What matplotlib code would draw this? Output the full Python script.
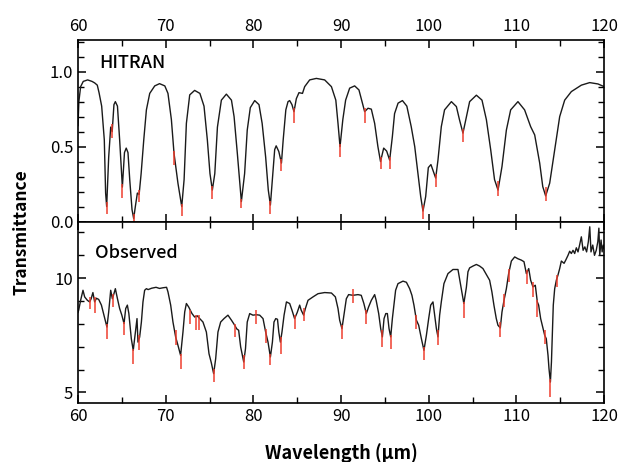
import matplotlib
matplotlib.use("Agg")
import matplotlib.pyplot as plt
import matplotlib.ticker as ticker
import numpy as np

plt.rcParams.update({
    "font.family": ["Noto Sans CJK JP", "DejaVu Sans"],
    "font.size": 12,
    "xtick.direction": "in",
    "ytick.direction": "in",
    "xtick.top": True,
    "ytick.right": True,
    "axes.linewidth": 1.2,
})

# HITRAN transmittance (upper panel)
hitran_wl = [
    60.0, 60.1, 60.3, 60.6, 61.1, 61.6, 61.9, 62.2, 62.4, 62.7, 63.0, 63.15, 63.27,
    63.5, 63.73, 63.9, 64.1, 64.26, 64.5, 64.75, 65.06, 65.3, 65.5, 65.7, 65.9,
    66.16, 66.35, 66.54, 66.77, 66.97, 67.2, 67.5, 67.8, 68.18, 68.75, 69.3, 69.9,
    70.26, 70.65, 70.95, 71.4, 71.83, 72.1, 72.36, 72.74, 73.3, 73.9, 74.37, 74.75,
    75.05, 75.32, 75.6, 75.9, 76.35, 76.92, 77.5, 77.8, 78.17, 78.63, 79.0, 79.3,
    79.65, 80.15, 80.64, 81.0, 81.4, 81.7, 81.94, 82.17, 82.43, 82.6, 82.9, 83.2,
    83.4, 83.7, 83.95, 84.14, 84.4, 84.63, 84.9, 85.2, 85.6, 85.85, 86.42, 87.18,
    88.13, 88.9, 89.4, 89.65, 89.88, 90.2, 90.52, 90.98, 91.55, 92.04, 92.43, 92.69,
    93.07, 93.45, 93.83, 94.2, 94.5, 94.86, 95.2, 95.54, 95.85, 96.1, 96.5, 97.0,
    97.5, 98.0, 98.4, 98.77, 99.08, 99.34, 99.65, 99.95, 100.25, 100.79, 101.05,
    101.43, 101.8, 102.58, 103.15, 103.5, 103.9, 104.3, 104.66, 105.43, 106.07,
    106.57, 107.06, 107.5, 107.9, 108.35, 108.85, 109.34, 110.17, 110.93, 111.62,
    112.08, 112.65, 113.0, 113.33, 113.79, 114.36, 114.93, 115.5, 116.26, 117.4,
    118.35, 119.3, 120.0,
]
hitran_t = [
    0.64, 0.80, 0.90, 0.935, 0.945, 0.935, 0.925, 0.91, 0.86, 0.77, 0.545, 0.19, 0.10,
    0.43, 0.63, 0.60, 0.78, 0.80, 0.77, 0.545, 0.23, 0.46, 0.49, 0.46, 0.28,
    0.08, 0.02, 0.10, 0.19, 0.18, 0.32, 0.545, 0.745, 0.855, 0.905, 0.92, 0.905,
    0.855, 0.68, 0.455, 0.255, 0.10, 0.28, 0.655, 0.845, 0.875, 0.855, 0.77, 0.545,
    0.32, 0.21, 0.32, 0.63, 0.81, 0.85, 0.81, 0.70, 0.455, 0.133, 0.32, 0.61,
    0.76, 0.807, 0.78, 0.655, 0.43, 0.21, 0.11, 0.28, 0.48, 0.505, 0.467, 0.39,
    0.545, 0.745, 0.80, 0.807, 0.78, 0.733, 0.82, 0.86, 0.855, 0.90, 0.945, 0.955,
    0.945, 0.90, 0.81, 0.655, 0.50, 0.68, 0.81, 0.89, 0.905, 0.878, 0.79, 0.733,
    0.756, 0.75, 0.655, 0.50, 0.40, 0.49, 0.47, 0.41, 0.567, 0.72, 0.79, 0.807,
    0.77, 0.633, 0.50, 0.32, 0.167, 0.07, 0.167, 0.36, 0.38, 0.29, 0.41,
    0.633, 0.745, 0.80, 0.767, 0.68, 0.59, 0.70, 0.80, 0.843, 0.81,
    0.68, 0.48, 0.28, 0.21, 0.367, 0.61, 0.745, 0.80, 0.745, 0.633,
    0.578, 0.39, 0.233, 0.171, 0.256, 0.48, 0.70, 0.81, 0.867, 0.91,
    0.927, 0.918, 0.90,
]

# red line markers on HITRAN curve: position, low, high
hitran_lines = [63.27, 63.9, 65.06, 66.35, 66.97, 70.95, 71.83, 75.32, 78.63, 81.94,
                83.2, 84.63, 89.88, 92.69, 94.5, 95.54, 99.34, 100.79, 103.9, 107.9, 113.33]
hitran_lo = [0.05, 0.56, 0.16, 0.0, 0.13, 0.38, 0.04, 0.15, 0.09, 0.05,
             0.34, 0.66, 0.43, 0.66, 0.35, 0.35, 0.02, 0.23, 0.53, 0.17, 0.14]
hitran_hi = [0.13, 0.65, 0.25, 0.05, 0.21, 0.47, 0.12, 0.24, 0.15, 0.135,
             0.42, 0.76, 0.52, 0.76, 0.43, 0.43, 0.11, 0.32, 0.62, 0.27, 0.23]

# Observed spectrum (lower panel)
obs_wl = [
    60.0, 60.08, 60.3, 60.57, 60.76, 61.07, 61.33, 61.5, 61.7, 61.9, 62.1, 62.36,
    62.67, 62.96, 63.3, 63.5, 63.73, 63.92, 64.1, 64.26, 64.5, 64.75, 65.0, 65.25,
    65.44, 65.63, 65.8, 66.08, 66.3, 66.5, 66.73, 66.84, 67.03, 67.23, 67.41, 67.6,
    67.8, 68.0, 68.4, 68.9, 69.3, 69.7, 70.1, 70.26, 70.57, 70.83, 71.14, 71.4,
    71.7, 71.97, 72.17, 72.36, 72.62, 73.0, 73.3, 73.6, 73.88, 74.25, 74.64, 74.94,
    75.2, 75.47, 75.7, 75.96, 76.27, 76.65, 77.1, 77.5, 77.87, 78.1, 78.32, 78.55,
    78.9, 79.1, 79.3, 79.58, 79.95, 80.33, 80.72, 81.1, 81.4, 81.67, 81.94, 82.17,
    82.35, 82.55, 82.75, 82.9, 83.08, 83.26, 83.5, 83.77, 84.14, 84.4, 84.7, 85.0,
    85.28, 85.45, 85.73, 85.93, 86.23, 86.8, 87.37, 88.13, 88.9, 89.35, 89.65, 89.84,
    90.1, 90.33, 90.6, 90.86, 91.36, 91.93, 92.3, 92.6, 92.88, 93.14, 93.45, 93.83,
    94.0, 94.29, 94.52, 94.71, 94.9, 95.1, 95.28, 95.47, 95.66, 95.85, 96.03, 96.22,
    96.49, 97.06, 97.45, 97.82, 98.08, 98.31, 98.59, 98.85, 99.16, 99.45, 99.73, 99.99,
    100.22, 100.48, 100.67, 100.87, 101.05, 101.24, 101.43, 101.73, 102.19, 102.76,
    103.33, 103.64, 104.0, 104.29, 104.47, 104.66, 105.04, 105.43, 105.8, 106.18,
    106.57, 106.94, 107.2, 107.43, 107.7, 107.89, 108.16, 108.35, 108.58, 108.85,
    109.11, 109.42, 109.8, 110.17, 110.56, 110.86, 111.13, 111.4, 111.62, 111.88,
    112.15, 112.38, 112.53, 112.76, 113.03, 113.22, 113.4, 113.6, 113.71, 113.87,
    113.99, 114.1, 114.2, 114.36, 114.55, 114.73, 114.93, 115.12, 115.43, 115.62,
    115.88, 116.07, 116.26, 116.45, 116.64, 116.83, 117.02, 117.2, 117.4, 117.6,
    117.8, 118.0, 118.2, 118.36, 118.5, 118.7, 118.9, 119.1, 119.28, 119.4, 119.5,
    119.65, 119.77, 119.9, 120.0,
]
obs_val = [
    8.5, 8.6, 9.03, 9.47, 9.18, 9.03, 8.96, 9.1, 9.37, 8.96, 9.12, 9.07,
    8.82, 8.38, 7.86, 8.52, 9.47, 9.1, 9.32, 9.54, 9.1, 8.67, 8.38, 8.01,
    8.67, 8.82, 8.45, 7.35, 6.84, 7.5, 8.23, 7.2, 7.42, 8.08, 8.96, 9.47,
    9.54, 9.5, 9.56, 9.6, 9.55, 9.58, 9.6, 9.4, 8.82, 8.08, 7.42, 7.06,
    6.62, 7.64, 8.52, 8.89, 8.74, 8.45, 8.3, 8.35, 8.23, 8.08, 7.64, 6.69,
    6.3, 5.82, 6.47, 7.64, 8.08, 8.23, 8.38, 8.16, 7.94, 7.78, 7.72, 6.99,
    6.33, 6.91, 8.08, 8.45, 8.38, 8.4, 8.38, 8.23, 7.64, 7.2, 6.55, 7.2,
    8.08, 8.23, 8.2, 7.64, 7.2, 7.64, 8.38, 8.96, 8.89, 8.6, 8.23, 8.5,
    8.82, 8.6, 8.38, 8.67, 9.03, 9.18, 9.32, 9.37, 9.35, 9.18, 8.67, 8.16,
    7.79, 8.38, 9.1, 9.28, 9.25, 9.28, 9.25, 8.89, 8.45, 8.74, 9.03, 9.28,
    9.03, 8.45, 7.79, 7.43, 8.23, 8.45, 8.45, 7.79, 7.43, 8.23, 8.82, 9.47,
    9.76, 9.87, 9.82, 9.54, 9.25, 8.82, 8.16, 7.94, 7.35, 6.84, 7.5, 8.23,
    8.82, 8.96, 8.38, 7.79, 7.43, 8.38, 8.96, 9.76, 10.2, 10.38,
    10.38, 9.69, 8.89, 9.6, 10.28, 10.45, 10.53, 10.6, 10.53, 10.42,
    10.16, 9.91, 9.4, 8.82, 8.23, 7.94, 7.82, 8.52, 9.03, 9.54,
    10.2, 10.75, 10.93, 10.85, 10.79, 10.72, 10.2, 10.42, 9.91, 9.62,
    9.69, 8.96, 8.82, 8.23, 7.79, 7.5, 7.35, 6.62, 6.04, 5.45,
    6.33, 7.64, 8.82, 9.54, 9.91, 10.13, 10.42, 10.75, 10.65, 10.79,
    11.0, 11.18, 11.08, 11.22, 11.08, 11.33, 11.15, 11.45, 11.81, 11.22,
    11.37, 11.15, 11.6, 12.25, 11.15, 11.45, 11.0, 11.22, 11.6, 12.19, 11.0,
    11.67, 11.15, 11.45, 11.3,
]

obs_lines = [61.33, 61.9, 63.3, 64.0, 65.25, 66.3, 66.95, 71.2, 71.7, 72.8, 73.5, 73.85,
             75.47, 77.87, 78.9, 80.33, 81.45, 81.94, 83.1, 84.7, 85.73,
             90.1, 91.36, 92.88, 94.7, 95.66, 98.6, 99.45, 101.1, 104.0,
             108.16, 108.6, 109.2, 111.2, 111.88, 112.38, 113.22, 113.87, 114.6]
obs_lo = [8.64, 8.49, 7.35, 8.74, 7.5, 6.25, 6.87, 7.06, 6.03, 8.0, 7.72, 7.72,
          5.45, 7.43, 6.04, 8.0, 7.17, 6.18, 6.69, 7.79, 8.13,
          7.35, 8.93, 8.0, 6.99, 6.89, 7.79, 6.4, 7.06, 8.27,
          7.43, 8.74, 9.84, 9.76, 9.18, 8.3, 7.13, 4.79, 9.62]
obs_hi = [9.18, 9.18, 8.0, 9.32, 8.1, 6.9, 7.5, 7.72, 6.69, 8.6, 8.38, 8.38,
          6.04, 8.0, 6.62, 8.62, 7.79, 6.69, 7.43, 8.38, 8.7,
          7.94, 9.54, 8.6, 7.72, 7.5, 8.38, 6.99, 7.72, 8.96,
          8.08, 9.32, 10.42, 10.35, 9.84, 9.03, 7.72, 5.6, 10.13]

red = "#ee3b2a"

fig, (ax1, ax2) = plt.subplots(2, 1, sharex=True, figsize=(6.19, 4.62), dpi=100,
                               gridspec_kw={"hspace": 0})
fig.subplots_adjust(left=0.126, right=0.976, top=0.913, bottom=0.128)

# ── upper: HITRAN ──
ax1.plot(hitran_wl, hitran_t, color="#1a1a1a", linewidth=1.0)
ax1.vlines(hitran_lines, hitran_lo, hitran_hi, color=red, linewidth=1.2, alpha=0.9)
ax1.set_ylim(0, 1.21)
ax1.yaxis.set_major_locator(ticker.FixedLocator([0.0, 0.5, 1.0]))
ax1.yaxis.set_major_formatter(ticker.FormatStrFormatter("%.1f"))
ax1.yaxis.set_minor_locator(ticker.MultipleLocator(0.1))
ax1.text(0.04, 0.875, "HITRAN", transform=ax1.transAxes, fontsize=13, va="center",
         fontweight="medium")
ax1.tick_params(axis="x", which="both", labeltop=True, labelbottom=False)

# ── lower: Observed ──
ax2.plot(obs_wl, obs_val, color="#1a1a1a", linewidth=1.0)
ax2.vlines(obs_lines, obs_lo, obs_hi, color=red, linewidth=1.2, alpha=0.9)
ax2.set_ylim(4.54, 12.48)
ax2.yaxis.set_major_locator(ticker.FixedLocator([5, 10]))
ax2.yaxis.set_minor_locator(ticker.MultipleLocator(1))
ax2.text(0.033, 0.825, "Observed", transform=ax2.transAxes, fontsize=13, va="center",
         fontweight="medium")

for ax in (ax1, ax2):
    ax.set_xlim(60, 120)
    ax.xaxis.set_major_locator(ticker.MultipleLocator(10))
    ax.xaxis.set_minor_locator(ticker.MultipleLocator(5))
    ax.tick_params(which="major", length=6, width=1.1, labelsize=12)
    ax.tick_params(which="minor", length=4, width=1.0)
    ax.tick_params(axis="x", which="both", top=True, bottom=True)
    ax.tick_params(axis="y", which="both", left=True, right=True)

ax2.set_xlabel("Wavelength (μm)", fontsize=13, fontweight="bold", labelpad=13)
fig.text(0.035, 0.497, "Transmittance", rotation=90, fontsize=12.5, fontweight="bold",
         ha="center", va="center")

plt.savefig("out.png", dpi=100)
plt.close()
